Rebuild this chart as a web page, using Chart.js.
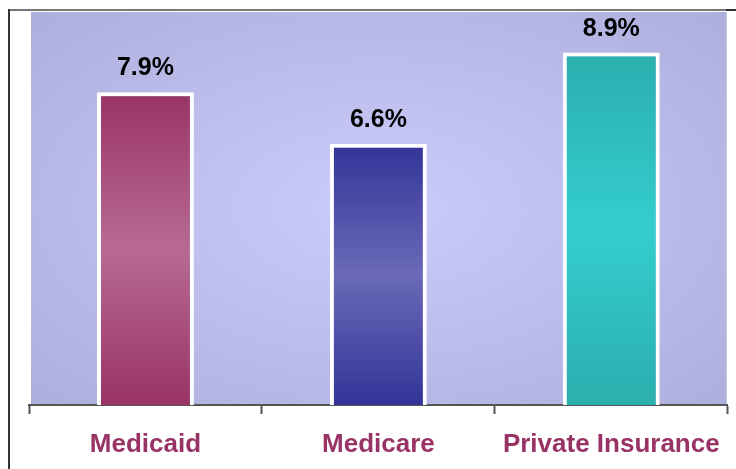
<!DOCTYPE html>
<html>
<head>
<meta charset="utf-8">
<script src="https://cdn.jsdelivr.net/npm/chart.js@4"></script>
<style>
html,body{margin:0;padding:0;background:#fff;}
#wrap{position:relative;width:736px;height:469px;}
</style>
</head>
<body>
<div id="wrap"><canvas id="c" width="736" height="469"></canvas></div>
<script>
const categories = ["Medicaid", "Medicare", "Private Insurance"];
const values = [7.9, 6.6, 8.9];
const darkColors = ["rgb(153,51,102)", "rgb(51,51,153)", "rgb(43,174,174)"];
const lightColors = ["rgb(183,106,148)", "rgb(106,106,184)", "rgb(52,206,206)"];

const FONT = "'Liberation Sans', Arial, sans-serif";

const framePlugin = {
  id: 'frame',
  beforeDraw(chart) {
    const {ctx, chartArea: a} = chart;
    ctx.save();
    const x0 = a.left + 2, x1 = a.right - 1, y0 = a.top + 3, y1 = a.bottom - 1;
    const cx = (x0 + x1) / 2, cy = (y0 + y1) / 2;
    const w = x1 - x0, h = y1 - y0;
    ctx.beginPath();
    ctx.rect(x0, y0, w, h);
    ctx.clip();
    ctx.translate(cx, cy);
    ctx.scale(w / h, 1);
    const g = ctx.createRadialGradient(0, 0, 0, 0, 0, h * 0.72);
    g.addColorStop(0, 'rgb(204,204,252)');
    g.addColorStop(1, 'rgb(174,174,220)');
    ctx.fillStyle = g;
    ctx.fillRect(-h, -h, 2 * h, 2 * h);
    ctx.restore();
    ctx.save();
    ctx.fillStyle = '#777';
    ctx.fillRect(9, 9, 727, 2);
    ctx.fillStyle = '#333';
    ctx.fillRect(726, 9, 10, 2);
    ctx.fillRect(8, 9, 2, 460);
    ctx.restore();
  }
};

const labelPlugin = {
  id: 'vlabels',
  afterDatasetsDraw(chart) {
    const {ctx} = chart;
    const meta = chart.getDatasetMeta(0);
    ctx.save();
    ctx.font = "bold 25px " + FONT;
    ctx.fillStyle = '#000';
    ctx.textAlign = 'center';
    ctx.textBaseline = 'alphabetic';
    meta.data.forEach((bar, i) => {
      ctx.fillText(values[i].toFixed(1) + '%', bar.x, bar.y - 17);
    });
    ctx.restore();
  }
};

function barGradient(context) {
  const chart = context.chart;
  const a = chart.chartArea;
  if (!a) return darkColors[context.dataIndex];
  const i = context.dataIndex;
  const top = chart.scales.y.getPixelForValue(values[i]);
  const g = chart.ctx.createLinearGradient(0, top, 0, a.bottom);
  g.addColorStop(0, darkColors[i]);
  g.addColorStop(0.5, lightColors[i]);
  g.addColorStop(1, darkColors[i]);
  return g;
}

new Chart(document.getElementById('c'), {
  type: 'bar',
  data: {
    labels: categories,
    datasets: [{
      data: values,
      backgroundColor: barGradient,
      borderColor: '#ffffff',
      borderWidth: 4,
      borderSkipped: 'start',
      barPercentage: 1,
      categoryPercentage: 0.416
    }]
  },
  options: {
    responsive: false,
    animation: false,
    devicePixelRatio: 1,
    layout: { padding: { left: 29, right: 8, top: 9, bottom: 0 } },
    plugins: { legend: { display: false }, tooltip: { enabled: false } },
    scales: {
      x: {
        afterFit(scale) { scale.height = 64; },
        grid: { display: true, drawOnChartArea: false, drawTicks: true, tickLength: 9, tickColor: '#555', tickWidth: 2, offset: true },
        border: { display: true, color: '#555', width: 2 },
        ticks: {
          color: 'rgb(153,51,102)',
          font: { family: FONT, size: 26, weight: 'bold' },
          padding: 15,
          maxRotation: 0,
          autoSkip: false
        }
      },
      y: {
        display: false,
        min: 0,
        max: 10
      }
    }
  },
  plugins: [framePlugin, labelPlugin]
});
</script>
</body>
</html>
